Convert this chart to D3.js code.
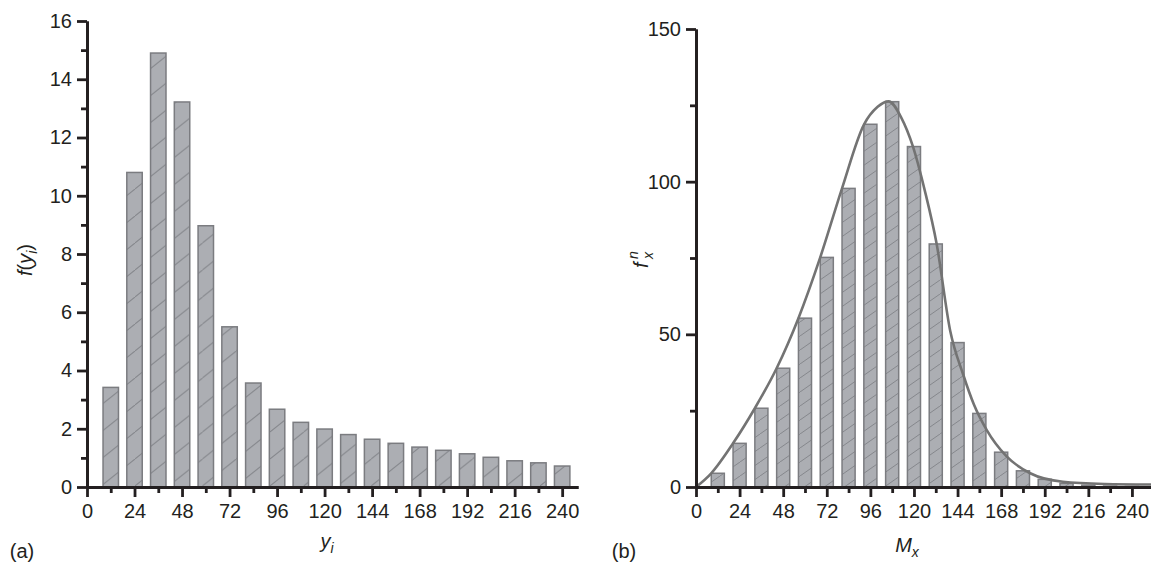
<!DOCTYPE html>
<html><head><meta charset="utf-8">
<script src="https://cdn.jsdelivr.net/npm/d3@7/dist/d3.min.js"></script>
<style>
body{margin:0;background:#fff}
svg{display:block}
text{font-family:"Liberation Sans",Arial,Helvetica,sans-serif}
</style>
</head><body>
<svg id="chart" width="1151" height="564"></svg>
<script>
// ---------- DATA ----------
const leftBins = [12,24,36,48,60,72,84,96,108,120,132,144,156,168,180,192,204,216,228,240];
const leftValues = [3.42,10.8,14.9,13.22,8.97,5.5,3.57,2.67,2.22,1.99,1.80,1.64,1.50,1.37,1.26,1.14,1.02,0.90,0.83,0.72];
const leftXTicks = [0,24,48,72,96,120,144,168,192,216,240];
const leftYTicks = [0,2,4,6,8,10,12,14,16];

const rightBins = [12,24,36,48,60,72,84,96,108,120,132,144,156,168,180,192,204,216,228,240];
const rightValues = [4.5,14.3,25.8,38.9,55.3,75.2,97.8,118.8,126.2,111.5,79.6,47.3,24.1,11.4,5.3,2.5,1.2,0.6,0.3,0.2];
const curveX = [0,8.4,20.4,32.4,44.4,56.4,68.4,80.4,92.4,100,106,113,119.5,126,132.5,140,147,153,160,171,184,202,225,251];
const curveY = [0,4.5,14.3,25.8,38.9,55.3,75.2,97.8,118.6,124.5,126.3,121,111.4,97,79.6,51,37,27,18.7,10,4.5,1.7,1.0,0.8];
const rightXTicks = [0,24,48,72,96,120,144,168,192,216,240];
const rightYTicks = [0,50,100,150];

// ---------- STYLE ----------
const AXIS = "#231f20", BARFILL = "#acaeb3", BARSTROKE = "#7b7c80", HATCH = "#85878c", CURVE = "#737373";
const FS = 20;

const svg = d3.select("#chart");
const defs = svg.append("defs");

function hatch(id, H, slope){
  const W = H/slope;
  const p = defs.append("pattern").attr("id", id).attr("patternUnits","userSpaceOnUse")
    .attr("width", W).attr("height", H);
  p.append("rect").attr("width", W).attr("height", H).attr("fill", BARFILL);
  p.append("path").attr("d", `M0,${H} L${W},0 M${-W},${H} L0,0 M${W},${2*H} L${2*W},${H}`)
    .attr("stroke", HATCH).attr("stroke-width", 1);
}
hatch("hatchL", 27, 0.8);
hatch("hatchR", 14, 0.7);

function styleAxis(g){
  g.select(".domain").attr("stroke", AXIS).attr("stroke-width", 2.8);
  g.selectAll(".tick line").attr("stroke", AXIS).attr("stroke-width", 2.8);
  g.selectAll(".tick text").attr("fill", "#231f20").style("font-size", FS+"px")
    .style("font-family", '"Liberation Sans",Arial,sans-serif');
}

function panel(opts){
  const x = d3.scaleLinear().domain(opts.xDomain).range(opts.xRange);
  const y = d3.scaleLinear().domain(opts.yDomain).range(opts.yRange);
  const g = svg.append("g");
  const bw = opts.barWidth;

  g.selectAll("rect.bar").data(opts.bins.map((b,i)=>({b, v: opts.values[i]})))
    .enter().append("rect").attr("class","bar")
    .attr("x", d => x(d.b - bw/2))
    .attr("width", d => x(d.b + bw/2) - x(d.b - bw/2))
    .attr("y", d => y(d.v))
    .attr("height", d => y(0) - y(d.v))
    .attr("fill", `url(#${opts.pattern})`)
    .attr("stroke", BARSTROKE).attr("stroke-width", 1.5);

  if (opts.curveX){
    const line = d3.line().x((d,i)=>x(opts.curveX[i])).y(d=>y(d)).curve(d3.curveMonotoneX);
    g.append("path").attr("d", line(opts.curveY)).attr("fill","none")
      .attr("stroke", CURVE).attr("stroke-width", 2.6);
  }

  const xMinor = opts.xTicks.slice(0,-1).map(t => t + (opts.xTicks[1]-opts.xTicks[0])/2);
  g.append("g").attr("transform", `translate(0,${y(0)})`)
    .call(d3.axisBottom(x).tickValues(xMinor).tickSize(6).tickFormat("").tickSizeOuter(0))
    .call(styleAxis);
  const yStep = opts.yTicks[1]-opts.yTicks[0];
  const yMinor = opts.yTicks.slice(0,-1).map(t => t + yStep/2);
  g.append("g").attr("transform", `translate(${x(0)},0)`)
    .call(d3.axisLeft(y).tickValues(yMinor).tickSize(6).tickFormat("").tickSizeOuter(0))
    .call(styleAxis);

  g.append("g").attr("transform", `translate(0,${y(0)})`)
    .call(d3.axisBottom(x).tickValues(opts.xTicks).tickSize(10).tickPadding(7).tickSizeOuter(0))
    .call(styleAxis);
  g.append("g").attr("transform", `translate(${x(0)},0)`)
    .call(d3.axisLeft(y).tickValues(opts.yTicks).tickSize(10).tickPadding(5).tickSizeOuter(0))
    .call(styleAxis);
  return {x, y};
}

panel({
  xDomain:[0,248], xRange:[87,578], yDomain:[0,16], yRange:[487,21],
  bins: leftBins, values: leftValues, barWidth: 7.8, pattern:"hatchL",
  xTicks: leftXTicks, yTicks: leftYTicks
});
panel({
  xDomain:[0,250.5], xRange:[696,1151], yDomain:[0,150], yRange:[487,29],
  bins: rightBins, values: rightValues, barWidth: 7.2, pattern:"hatchR",
  curveX, curveY, xTicks: rightXTicks, yTicks: rightYTicks
});

// ---------- TITLES ----------
function t(x, y, rot){
  return svg.append("text").attr("transform", `translate(${x},${y}) rotate(${rot||0})`)
    .attr("text-anchor","middle").attr("fill","#231f20").style("font-size", FS+"px");
}
let a = t(32, 260, -90);
a.append("tspan").attr("font-style","italic").text("f");
a.append("tspan").text("(");
a.append("tspan").attr("font-style","italic").text("y");
a.append("tspan").attr("font-style","italic").attr("font-size","14px").attr("dy","5").text("i");
a.append("tspan").attr("dy","-5").text(")");

let b = t(327, 548, 0);
b.append("tspan").attr("font-style","italic").text("y");
b.append("tspan").attr("font-style","italic").attr("font-size","14px").attr("dy","5").text("i");

let c = t(907, 552, 0);
c.append("tspan").attr("font-style","italic").text("M");
c.append("tspan").attr("font-style","italic").attr("font-size","14px").attr("dy","5").text("x");

let d = svg.append("text").attr("transform","translate(648,258) rotate(-90)")
  .attr("fill","#231f20").attr("text-anchor","start").style("font-size", FS+"px");
d.append("tspan").attr("font-style","italic").attr("x",-10).text("f");
d.append("tspan").attr("font-style","italic").attr("font-size","14px").attr("x",-1).attr("dy","-10").text("n");
d.append("tspan").attr("font-style","italic").attr("font-size","14px").attr("x",-1).attr("dy","15").text("x");

t(22, 558, 0).text("(a)");
t(624, 558, 0).text("(b)");
</script>
</body></html>
